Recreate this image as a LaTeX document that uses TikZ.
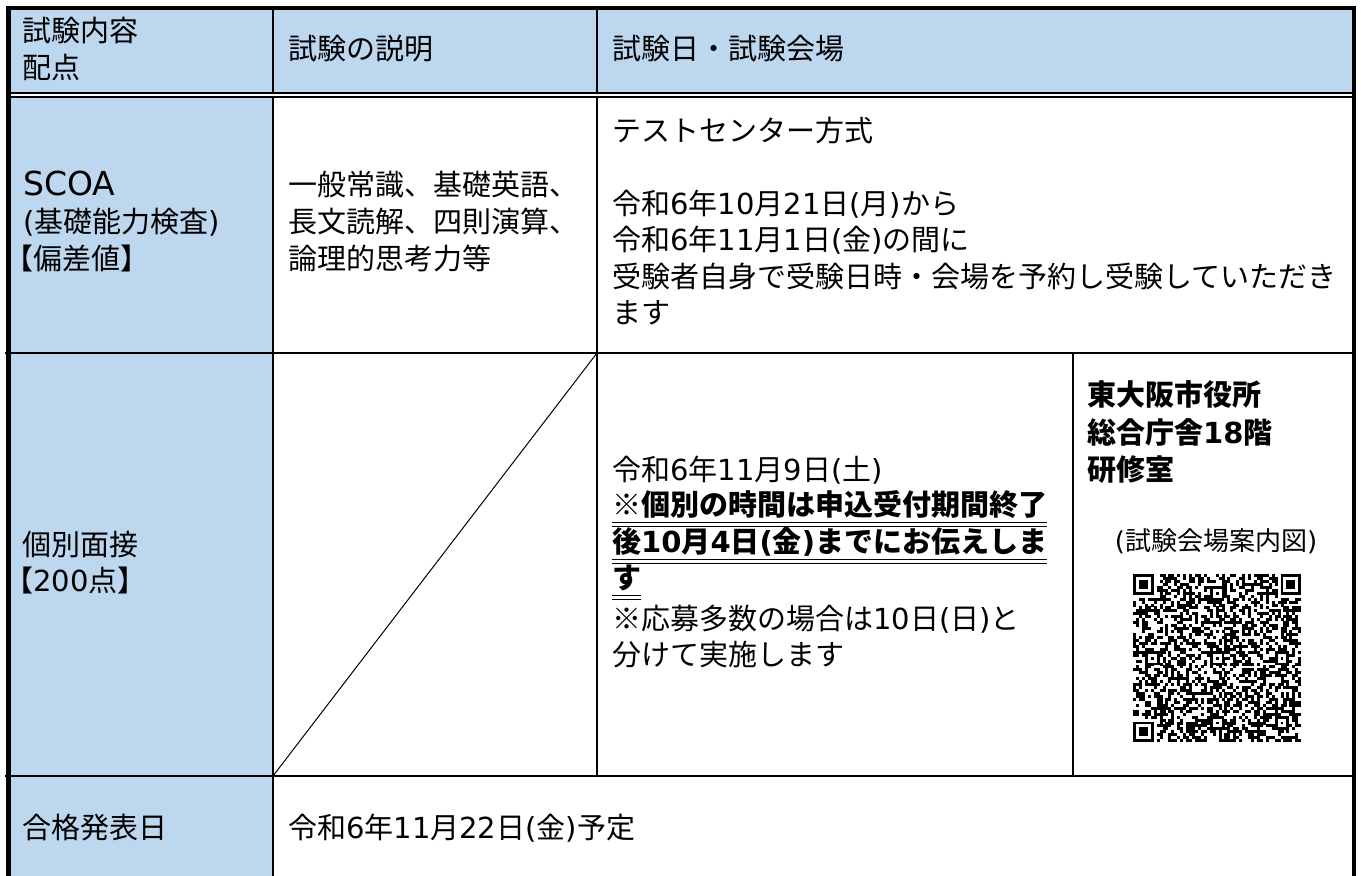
\documentclass[tikz,border=0pt]{standalone}
\usepackage{fontspec}
\setmainfont{Noto Sans CJK JP}
\newfontfamily\latinwide{DejaVu Sans}
\newcommand\dv[1]{{\latinwide #1}}
\definecolor{hdrblue}{RGB}{189,215,238}
\begin{document}
\begin{tikzpicture}[x=1pt,y=-1pt,
  txt/.style={anchor=west, inner sep=0pt, font=\fontsize{29}{36}\selectfont, text height=22pt, text depth=6pt},
  btxt/.style={txt, font=\fontsize{29}{36}\selectfont\bfseries},
  grid/.style={line width=2.2pt, line cap=rect},
  outer/.style={line width=4.5pt, line cap=rect},
  uline/.style={line width=1.4pt}]
\useasboundingbox (0,0) rectangle (1361,876);
\clip (0,0) rectangle (1361,876);
% fills
\fill[hdrblue] (6,8) rectangle (1355,95);
\fill[hdrblue] (6,95) rectangle (273,880);
% grid
\draw[grid] (6,353) -- (1355,353);
\draw[grid] (6,776) -- (1355,776);
\draw[grid] (273,8) -- (273,880);
\draw[grid] (597,8) -- (597,776);
\draw[line width=2pt] (1073,353) -- (1073,776);
\draw[line width=1pt] (273,776) -- (597,353);
% double line under the header
\draw[line width=5.2pt] (6,95) -- (1355,95);
\draw[white, line width=1.7pt] (6,95) -- (1355,95);
\draw[outer] (8.5,880) -- (8.5,8) -- (1354,8) -- (1354,880);
% header
\node[txt] (h1a) at (22,33) {試験内容};
\node[txt] (h1b) at (22,70) {配点};
\node[txt] (h2) at (288,51) {試験の説明};
\node[txt] (h3) at (612,51) {試験日・試験会場};
% row 1
\node[txt, font=\fontsize{33}{36}\latinwide] (r1a) at (23,187) {SCOA};
\node[txt] (r1b) at (23,224) {\dv{(}基礎能力検査\dv{)}};
\node[txt] (r1c) at (4,261) {【偏差値】};
\node[txt] (r1d) at (288,187) {一般常識、基礎英語、};
\node[txt] (r1e) at (288,224) {長文読解、四則演算、};
\node[txt] (r1f) at (288,261) {論理的思考力等};
\node[txt] (r1g) at (612,133) {テストセンター方式};
\node[txt] (r1h) at (612,206) {令和\dv{6}年\dv{10}月\dv{21}日\dv{(}月\dv{)}から};
\node[txt] (r1i) at (612,242) {令和\dv{6}年\dv{11}月\dv{1}日\dv{(}金\dv{)}の間に};
\node[txt] (r1j) at (612,279) {受験者自身で受験日時・会場を予約し受験していただき};
\node[txt] (r1k) at (612,315) {ます};
% row 2
\node[txt] (r2a) at (22,547) {個別面接};
\node[txt] (r2b) at (4,583) {【\dv{200}点】};
\node[txt] (r2c) at (612,472) {令和\dv{6}年\dv{11}月\dv{9}日\dv{(}土\dv{)}};
\node[btxt] (r2d) at (612,507) {※個別の時間は申込受付期間終了};
\node[btxt] (r2e) at (612,544) {後\dv{10}月\dv{4}日\dv{(}金\dv{)}までにお伝えしま};
\node[btxt] (r2f) at (612,580) {す};
\node[txt] (r2g) at (612,621) {※応募多数の場合は\dv{10}日\dv{(}日\dv{)}と};
\node[txt] (r2h) at (612,657) {分けて実施します};
\foreach \n in {r2d,r2e,r2f}{
  \draw[uline] ([yshift=-1.5pt]\n.south west) -- ([yshift=-1.5pt]\n.south east);
  \draw[uline] ([yshift=-5pt]\n.south west) -- ([yshift=-5pt]\n.south east);
}
\node[btxt] (r2i) at (1087,397) {東大阪市役所};
\node[btxt] (r2j) at (1087,435) {総合庁舎\dv{18}階};
\node[btxt] (r2k) at (1087,472) {研修室};
\node[txt, anchor=center, font=\fontsize{26}{30}\selectfont] (r2l) at (1216,542) {\dv{(}試験会場案内図\dv{)}};
% QR code
\begin{scope}[shift={(1133pt,-574pt)}, x=2.95pt, y=-2.95pt]
  \pgfmathsetseed{20241}
  \foreach \i in {0,...,56}{
    \foreach \j in {0,...,56}{
      \pgfmathrandominteger{\r}{0}{1}
      \ifnum\r=1 \fill (\i,\j) rectangle ++(1.03,1.03); \fi
    }
  }
  \fill[white] (0,0) rectangle (8,8);
  \fill[white] (49,0) rectangle (57,8);
  \fill[white] (0,49) rectangle (8,57);
  \foreach \a/\b in {0/0,50/0,0/50}{
    \fill (\a,\b) rectangle ++(7,7);
    \fill[white] (\a+1,\b+1) rectangle ++(5,5);
    \fill (\a+2,\b+2) rectangle ++(3,3);
  }
  \foreach \a/\b in {6/28,28/6,28/28,28/50,50/28,50/50}{
    \fill (\a-2,\b-2) rectangle ++(5,5);
    \fill[white] (\a-1,\b-1) rectangle ++(3,3);
    \fill (\a,\b) rectangle ++(1,1);
  }
\end{scope}
% row 3
\node[txt] (r3a) at (22,830) {合格発表日};
\node[txt] (r3b) at (288,830) {令和\dv{6}年\dv{11}月\dv{22}日\dv{(}金\dv{)}予定};
\end{tikzpicture}
\end{document}
